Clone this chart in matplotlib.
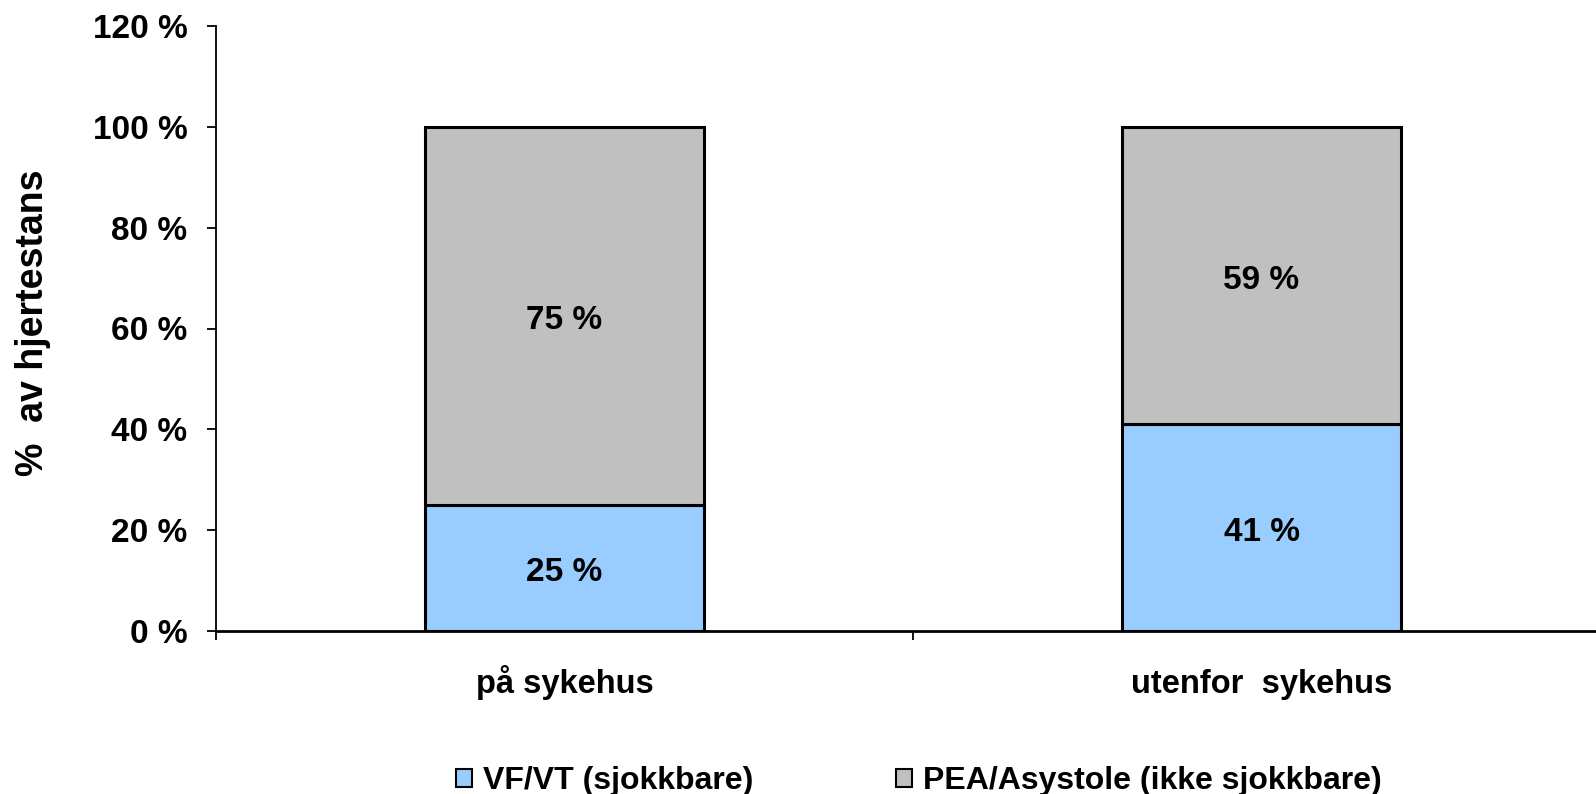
import matplotlib
matplotlib.use("Agg")
import matplotlib.pyplot as plt
from matplotlib.patches import Patch
import numpy as np

categories = ["på sykehus", "utenfor  sykehus"]
vf_vt = [25, 41]
pea_asystole = [75, 59]
series_names = ["VF/VT (sjokkbare)", "PEA/Asystole (ikke sjokkbare)"]
yticks = [0, 20, 40, 60, 80, 100, 120]

plt.rcParams['font.family'] = ['Liberation Sans', 'DejaVu Sans']
plt.rcParams['font.weight'] = 'bold'

fig = plt.figure(figsize=(15.96, 7.94), dpi=100)
W, H = 1596, 794
left, right, top, bottom = 216, 1610, 26, 631
ax = fig.add_axes([left / W, 1 - bottom / H, (right - left) / W, (bottom - top) / H])

x = np.arange(len(categories))
blue = "#99CCFF"
gray = "#C0C0C0"
bw = 0.40
ax.bar(x, vf_vt, width=bw, color=blue, edgecolor="black", linewidth=2.2, zorder=3)
ax.bar(x, pea_asystole, width=bw, bottom=vf_vt, color=gray, edgecolor="black", linewidth=2.2, zorder=3)

for i in range(len(categories)):
    ax.annotate(f"{vf_vt[i]} %", (x[i], vf_vt[i] / 2), xytext=(0, -3.6), textcoords="offset points",
                ha="center", va="center", fontsize=24, fontweight="bold", zorder=4)
    ax.annotate(f"{pea_asystole[i]} %", (x[i], vf_vt[i] + pea_asystole[i] / 2), xytext=(0, -3.6),
                textcoords="offset points", ha="center", va="center", fontsize=24,
                fontweight="bold", zorder=4)

ax.set_xlim(-0.5, len(categories) - 0.5)
ax.set_ylim(0, 120)
ax.set_yticks(yticks)
ax.set_yticklabels([f"{v} %" for v in yticks], fontsize=24, fontweight="bold")
ax.set_xticks(x)
ax.set_xticklabels(categories, fontsize=23.5, fontweight="bold", va="baseline")
ax.tick_params(axis="x", which="major", length=0, pad=44.5)
ax.set_xticks(np.arange(-0.5, len(categories), 1.0), minor=True)
ax.tick_params(axis="x", which="minor", length=6.5, width=1.3, direction="out")
ax.tick_params(axis="y", length=6.5, width=1.3, direction="out", pad=14)

for s in ["top", "right"]:
    ax.spines[s].set_visible(False)
ax.spines["left"].set_linewidth(1.3)
ax.spines["bottom"].set_linewidth(2.0)

ax.set_ylabel("%  av hjertestans", fontsize=27, fontweight="bold")
ax.yaxis.label.set_va("center")
ax.yaxis.set_label_coords(-(216 - 33) / (right - left), ((bottom - 323)) / (bottom - top))

handles = [Patch(facecolor=blue, edgecolor="black", linewidth=1.5),
           Patch(facecolor=gray, edgecolor="black", linewidth=1.5)]
leg = fig.legend(handles, series_names, loc="center", bbox_to_anchor=(919 / W, 1 - 781 / H),
                 ncol=2, frameon=False, handlelength=0.5, handleheight=0.5,
                 handletextpad=0.35, columnspacing=4.45, prop={'weight': 'bold', 'size': 23})

fig.savefig("out.png", dpi=100)
